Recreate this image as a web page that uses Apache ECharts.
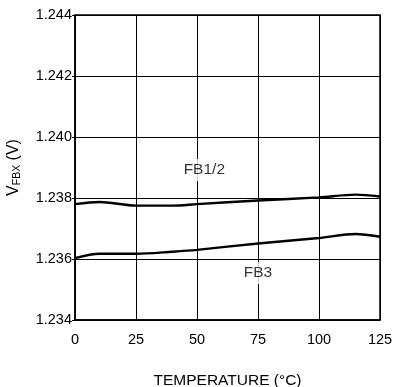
<!DOCTYPE html>
<html>
<head>
<meta charset="utf-8">
<script src="https://cdn.jsdelivr.net/npm/echarts@6/dist/echarts.min.js"></script>
<style>html,body{margin:0;padding:0;background:#fff}#c{width:394px;height:387px}</style>
</head>
<body>
<div id="c"></div>
<script>
var temps = [0, 10, 25, 40, 50, 75, 100, 115, 125];
var fb12 = [1.2378, 1.23787, 1.23775, 1.23775, 1.2378, 1.23792, 1.23802, 1.23811, 1.23805];
var fb3 = [1.23603, 1.23617, 1.23617, 1.23624, 1.2363, 1.23651, 1.23669, 1.23682, 1.23673];
var xTicks = [0, 25, 50, 75, 100, 125];
var yTicks = [1.234, 1.236, 1.238, 1.240, 1.242, 1.244];
var labelFB12 = {name: 'FB1/2', at: [53, 1.23892]};
var labelFB3 = {name: 'FB3', at: [75, 1.23554]};

function pairs(xs, ys) { return xs.map(function (x, i) { return [x, ys[i]]; }); }

var font = 'Liberation Sans, Arial, sans-serif';
var chart = echarts.init(document.getElementById('c'));
chart.setOption({
  animation: false,
  grid: {left: 75, right: 14, top: 15, bottom: 67, show: true, borderColor: '#000', borderWidth: 1.5,
    containLabel: false, outerBoundsMode: 'none'},
  xAxis: {
    type: 'value', min: xTicks[0], max: xTicks[xTicks.length - 1], interval: 25,
    name: 'TEMPERATURE (\u00B0C)', nameLocation: 'middle', nameGap: 53,
    nameTextStyle: {color: '#000', fontSize: 15.5, fontFamily: font},
    axisLine: {show: true, lineStyle: {color: '#000', width: 1.5}},
    axisTick: {show: false},
    axisLabel: {color: '#000', fontSize: 14.5, fontFamily: font, margin: 12},
    splitLine: {show: true, lineStyle: {color: '#000', width: 1}}
  },
  yAxis: {
    type: 'value', min: yTicks[0], max: yTicks[yTicks.length - 1], interval: 0.002,
    name: '{v|V}{s|FBX}{v| (V)}', nameLocation: 'middle', nameGap: 52, nameRotate: 90,
    nameTextStyle: {rich: {
      v: {color: '#000', fontSize: 16, fontFamily: font},
      s: {color: '#000', fontSize: 10.5, fontFamily: font, verticalAlign: 'bottom', padding: [7, 0, 0, 0]}
    }},
    axisLine: {show: true, lineStyle: {color: '#000', width: 1.5}},
    axisTick: {show: true, length: 3, lineStyle: {color: '#000'}},
    axisLabel: {color: '#000', fontSize: 14.5, fontFamily: font, margin: 3,
      formatter: function (v) { return v.toFixed(3); }},
    splitLine: {show: true, lineStyle: {color: '#000', width: 1}}
  },
  series: [
    {type: 'line', data: pairs(temps, fb12), smooth: 0.3, symbol: 'none',
     lineStyle: {color: '#000', width: 2.4}, z: 3},
    {type: 'line', data: pairs(temps, fb3), smooth: 0.3, symbol: 'none',
     lineStyle: {color: '#000', width: 2.4}, z: 3},
    {type: 'scatter', symbolSize: 0, z: 4,
     data: [
       {value: labelFB12.at, name: labelFB12.name},
       {value: labelFB3.at, name: labelFB3.name}
     ],
     label: {show: true, position: 'inside', formatter: '{b}', color: '#000', fontSize: 15.5,
       fontFamily: font, backgroundColor: '#fff', padding: [3, 2]}}
  ]
});
</script>
</body>
</html>
